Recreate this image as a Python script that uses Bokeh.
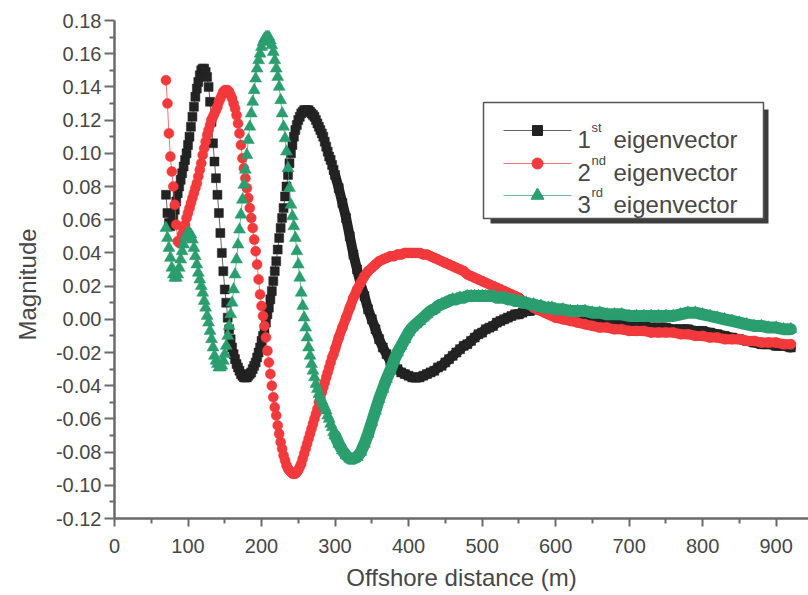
from bokeh.plotting import figure
from bokeh.models import FixedTicker, PrintfTickFormatter, Range1d, Title
from bokeh.core.properties import value
from bokeh.embed import file_html
from bokeh.resources import INLINE

# Offshore distance (m) of each sample: dense near the shore, sparser offshore
distance = list(range(70, 301, 2)) + list(range(305, 601, 5)) + list(range(610, 921, 10))

# 1st eigenvector
ev1_near = [
    0.075, 0.064, 0.058, 0.056, 0.058, 0.062, 0.066, 0.071, 0.076, 0.080,
    0.084, 0.088, 0.092, 0.096, 0.100, 0.105, 0.110, 0.116, 0.122, 0.128,
    0.134, 0.139, 0.143, 0.147, 0.150, 0.151, 0.151, 0.149, 0.146, 0.140,
    0.131, 0.119, 0.106, 0.095, 0.085, 0.075, 0.064, 0.052, 0.040, 0.029,
    0.018, 0.010, 0.001, -0.006, -0.012, -0.017, -0.021, -0.024, -0.027, -0.029,
    -0.031, -0.033, -0.034, -0.035, -0.035, -0.035, -0.034, -0.033, -0.032, -0.030,
    -0.028, -0.026, -0.023, -0.020, -0.017, -0.013, -0.010, -0.006, -0.002, 0.003,
    0.007, 0.012, 0.017, 0.023, 0.029, 0.035, 0.042, 0.049, 0.055, 0.061,
    0.067, 0.074, 0.080, 0.087, 0.094, 0.100, 0.105, 0.110, 0.114, 0.117,
    0.120, 0.122, 0.124, 0.125, 0.126, 0.126, 0.126, 0.126, 0.125, 0.124,
    0.123, 0.122, 0.120, 0.118, 0.116, 0.114, 0.112, 0.110, 0.107, 0.104,
    0.101, 0.098, 0.096, 0.093, 0.090, 0.087,
]
ev1_mid = [
    0.079, 0.070, 0.061, 0.050, 0.039, 0.030, 0.021, 0.014, 0.006, 0.000,
    -0.006, -0.012, -0.017, -0.021, -0.025, -0.028, -0.030, -0.032, -0.033, -0.034,
    -0.035, -0.035, -0.035, -0.034, -0.033, -0.032, -0.031, -0.029, -0.028, -0.026,
    -0.024, -0.022, -0.020, -0.018, -0.016, -0.015, -0.013, -0.011, -0.009, -0.008,
    -0.006, -0.005, -0.004, -0.002, -0.001, 0.000, 0.001, 0.002, 0.003, 0.003,
    0.004, 0.005, 0.005, 0.006, 0.006, 0.006, 0.006, 0.005, 0.005, 0.004,
]
ev1_far = [
    0.003, 0.002, 0.001, 0.000, -0.001, -0.002, -0.002, -0.003, -0.003, -0.004,
    -0.004, -0.004, -0.005, -0.005, -0.005, -0.006, -0.006, -0.006, -0.007, -0.007,
    -0.008, -0.009, -0.010, -0.011, -0.012, -0.013, -0.014, -0.015, -0.015, -0.016,
    -0.016, -0.017,
]

# 2nd eigenvector
ev2_near = [
    0.144, 0.130, 0.112, 0.098, 0.089, 0.080, 0.069, 0.057, 0.047, 0.046,
    0.048, 0.051, 0.054, 0.057, 0.061, 0.064, 0.067, 0.070, 0.073, 0.076,
    0.079, 0.082, 0.086, 0.090, 0.094, 0.099, 0.103, 0.107, 0.111, 0.114,
    0.117, 0.120, 0.122, 0.124, 0.126, 0.128, 0.131, 0.133, 0.135, 0.137,
    0.138, 0.138, 0.138, 0.137, 0.135, 0.133, 0.130, 0.127, 0.123, 0.118,
    0.112, 0.105, 0.097, 0.091, 0.085, 0.079, 0.073, 0.067, 0.061, 0.055,
    0.048, 0.041, 0.033, 0.024, 0.015, 0.008, 0.002, -0.004, -0.011, -0.019,
    -0.026, -0.033, -0.040, -0.047, -0.053, -0.058, -0.064, -0.069, -0.074, -0.078,
    -0.082, -0.085, -0.088, -0.090, -0.091, -0.092, -0.093, -0.093, -0.093, -0.092,
    -0.091, -0.089, -0.087, -0.084, -0.081, -0.078, -0.075, -0.072, -0.069, -0.066,
    -0.063, -0.060, -0.057, -0.054, -0.050, -0.047, -0.044, -0.041, -0.038, -0.035,
    -0.032, -0.029, -0.026, -0.023, -0.021, -0.018,
]
ev2_mid = [
    -0.011, -0.005, 0.001, 0.007, 0.013, 0.018, 0.022, 0.026, 0.029, 0.031,
    0.033, 0.035, 0.036, 0.037, 0.038, 0.038, 0.039, 0.039, 0.040, 0.040,
    0.040, 0.040, 0.040, 0.039, 0.039, 0.038, 0.037, 0.036, 0.035, 0.034,
    0.033, 0.032, 0.031, 0.030, 0.029, 0.027, 0.026, 0.025, 0.024, 0.023,
    0.022, 0.021, 0.020, 0.019, 0.018, 0.017, 0.016, 0.015, 0.014, 0.013,
    0.011, 0.010, 0.009, 0.007, 0.006, 0.005, 0.004, 0.003, 0.002, 0.001,
]
ev2_far = [
    0.000, -0.001, -0.002, -0.003, -0.004, -0.005, -0.005, -0.006, -0.006, -0.007,
    -0.007, -0.007, -0.008, -0.008, -0.008, -0.008, -0.009, -0.009, -0.010, -0.010,
    -0.011, -0.011, -0.012, -0.012, -0.012, -0.013, -0.013, -0.014, -0.014, -0.014,
    -0.015, -0.015,
]

# 3rd eigenvector
ev3_near = [
    0.055, 0.049, 0.043, 0.037, 0.031, 0.027, 0.025, 0.025, 0.027, 0.031,
    0.036, 0.041, 0.045, 0.049, 0.051, 0.052, 0.052, 0.051, 0.048, 0.043,
    0.038, 0.033, 0.028, 0.024, 0.020, 0.016, 0.011, 0.007, 0.002, -0.002,
    -0.007, -0.012, -0.017, -0.022, -0.025, -0.027, -0.029, -0.029, -0.028, -0.025,
    -0.021, -0.016, -0.010, -0.004, 0.003, 0.010, 0.018, 0.027, 0.036, 0.045,
    0.054, 0.063, 0.072, 0.081, 0.090, 0.099, 0.108, 0.116, 0.124, 0.131,
    0.138, 0.145, 0.151, 0.156, 0.160, 0.164, 0.167, 0.169, 0.170, 0.170,
    0.170, 0.168, 0.165, 0.161, 0.156, 0.151, 0.146, 0.140, 0.132, 0.124,
    0.116, 0.109, 0.101, 0.091, 0.079, 0.069, 0.062, 0.056, 0.049, 0.041,
    0.033, 0.025, 0.016, 0.008, 0.001, -0.005, -0.011, -0.017, -0.022, -0.027,
    -0.031, -0.035, -0.039, -0.042, -0.045, -0.047, -0.049, -0.051, -0.053, -0.055,
    -0.058, -0.060, -0.063, -0.065, -0.068, -0.070,
]
ev3_mid = [
    -0.075, -0.079, -0.082, -0.084, -0.084, -0.083, -0.080, -0.075, -0.069, -0.062,
    -0.055, -0.048, -0.042, -0.036, -0.031, -0.025, -0.020, -0.016, -0.012, -0.008,
    -0.005, -0.003, -0.001, 0.001, 0.003, 0.005, 0.006, 0.008, 0.009, 0.010,
    0.011, 0.012, 0.012, 0.013, 0.013, 0.014, 0.014, 0.014, 0.014, 0.014,
    0.014, 0.014, 0.014, 0.013, 0.013, 0.013, 0.012, 0.012, 0.011, 0.011,
    0.010, 0.010, 0.009, 0.009, 0.008, 0.008, 0.007, 0.007, 0.007, 0.006,
]
ev3_far = [
    0.006, 0.005, 0.005, 0.005, 0.004, 0.004, 0.003, 0.003, 0.003, 0.002,
    0.002, 0.002, 0.002, 0.002, 0.002, 0.002, 0.003, 0.004, 0.004, 0.003,
    0.002, 0.001, 0.000, -0.001, -0.002, -0.003, -0.004, -0.004, -0.005, -0.005,
    -0.006, -0.006,
]

ev1 = ev1_near + ev1_mid + ev1_far
ev2 = ev2_near + ev2_mid + ev2_far
ev3 = ev3_near + ev3_mid + ev3_far
assert len(ev1) == len(ev2) == len(ev3) == len(distance)

x_ticks = [0, 100, 200, 300, 400, 500, 600, 700, 800, 900]
x_minor = [50, 150, 250, 350, 450, 550, 650, 750, 850]
y_ticks = [-0.12, -0.10, -0.08, -0.06, -0.04, -0.02, 0.00, 0.02, 0.04,
           0.06, 0.08, 0.10, 0.12, 0.14, 0.16, 0.18]
y_minor = [-0.11, -0.09, -0.07, -0.05, -0.03, -0.01, 0.01, 0.03, 0.05,
           0.07, 0.09, 0.11, 0.13, 0.15, 0.17]

series_names = ["1", "2", "3"]
series_suffix = ["st", "nd", "rd"]
series_colors = ["#232323", "#f2393b", "#2b9e6f"]
series_markers = ["square", "circle", "triangle"]
series_sizes = [9, 10, 12]
band_widths = [10, 10, 12]

FONT = "Liberation Sans"
TEXT_COLOR = "#474747"
AXIS_COLOR = "#6a6a6a"

FRAME_LEFT, FRAME_TOP, FRAME_W, FRAME_H = 114, 20, 694, 498
x_range = Range1d(0, 944)
y_range = Range1d(-0.12, 0.18)

p = figure(frame_width=FRAME_W, frame_height=FRAME_H,
           x_range=x_range, y_range=y_range,
           min_border_left=FRAME_LEFT, min_border_top=FRAME_TOP,
           min_border_right=0, min_border_bottom=77,
           output_backend="svg", toolbar_location=None,
           background_fill_color="white", border_fill_color="white")
p.outline_line_color = None
p.grid.visible = False

# axes
p.xaxis.ticker = FixedTicker(ticks=x_ticks, minor_ticks=x_minor)
p.yaxis.ticker = FixedTicker(ticks=y_ticks, minor_ticks=y_minor)
p.xaxis.formatter = PrintfTickFormatter(format="%d")
p.yaxis.formatter = PrintfTickFormatter(format="%.2f")
p.xaxis.axis_label = "Offshore distance (m)"
for ax in (p.xaxis, p.yaxis):
    ax.axis_line_color = AXIS_COLOR
    ax.axis_line_width = 2.5
    ax.major_tick_line_color = AXIS_COLOR
    ax.major_tick_line_width = 2
    ax.minor_tick_line_color = AXIS_COLOR
    ax.minor_tick_line_width = 2
    ax.major_tick_in = 0
    ax.minor_tick_in = 0
    ax.major_label_text_font = FONT
    ax.major_label_text_font_size = "20px"
    ax.major_label_text_color = TEXT_COLOR
    ax.axis_label_text_font = FONT
    ax.axis_label_text_font_size = "24px"
    ax.axis_label_text_font_style = "normal"
    ax.axis_label_text_color = TEXT_COLOR
p.xaxis.major_tick_out = 8
p.xaxis.minor_tick_out = 5
p.yaxis.major_tick_out = 10
p.yaxis.minor_tick_out = 5
p.xaxis.major_label_standoff = 12
p.yaxis.major_label_standoff = 3
p.xaxis.axis_label_standoff = 8

# vertical axis title, starting a little below the middle of the frame
p.add_layout(Title(text="Magnitude", align="left", offset=178, standoff=23,
                   text_font=FONT, text_font_size="24px", text_font_style="normal",
                   text_color=TEXT_COLOR), "left")

# curves: thin connecting line plus dense markers; offshore the markers merge
# into a continuous band, drawn as a wide stroke through the same samples
start_band = distance.index(300)
for ys, color, marker, size, bw in zip([ev1, ev2, ev3], series_colors,
                                       series_markers, series_sizes, band_widths):
    p.line(distance, ys, line_color=color, line_width=1, line_alpha=0.7)
    p.line(distance[start_band:], ys[start_band:], line_color=color, line_width=bw,
           line_join="round", line_cap="round")
    p.scatter(distance, ys, marker=marker, size=size,
              fill_color=color, line_color=color, line_width=0.5)


# legend, laid out in pixels and converted to data space
def px_x(px):
    return x_range.start + (px - FRAME_LEFT) / FRAME_W * (x_range.end - x_range.start)


def px_y(py):
    return y_range.end - (py - FRAME_TOP) / FRAME_H * (y_range.end - y_range.start)


p.quad(left=px_x(490), right=px_x(768), top=px_y(109), bottom=px_y(223),
       fill_color="#3c3c3c", line_color=None)
p.quad(left=px_x(483), right=px_x(763), top=px_y(102), bottom=px_y(218),
       fill_color="white", line_color="#555555", line_width=1.5)

row_line_y = [130, 163, 195]
row_base_y = [139, 172, 204]
for i in range(3):
    ly = px_y(row_line_y[i])
    p.line([px_x(503), px_x(571)], [ly, ly], line_color=series_colors[i],
           line_width=1, line_alpha=0.7)
    p.scatter([px_x(537)], [ly], marker=series_markers[i], size=series_sizes[i] + 1,
              fill_color=series_colors[i], line_color=series_colors[i])
    by = px_y(row_base_y[i])
    p.text([px_x(577)], [by], text=[series_names[i]], text_baseline="alphabetic",
           text_font=value(FONT), text_font_size=value("24px"), text_color=TEXT_COLOR)
    p.text([px_x(591)], [px_y(row_base_y[i] - 12)], text=[series_suffix[i]],
           text_baseline="alphabetic", text_font=value(FONT),
           text_font_size=value("13px"), text_color=TEXT_COLOR)
    p.text([px_x(613)], [by], text=["eigenvector"], text_baseline="alphabetic",
           text_font=value(FONT), text_font_size=value("24px"), text_color=TEXT_COLOR)

open("out.html", "w").write(file_html(p, INLINE))
